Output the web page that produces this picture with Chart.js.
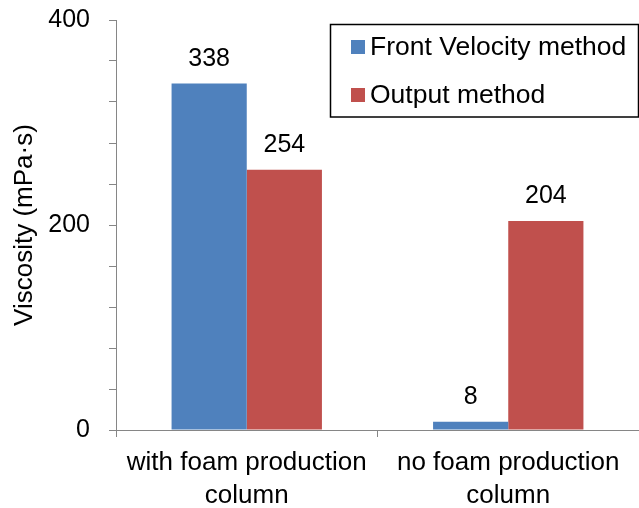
<!DOCTYPE html>
<html>
<head>
<meta charset="utf-8">
<script src="https://cdn.jsdelivr.net/npm/chart.js@4/dist/chart.umd.min.js"></script>
<style>
  html, body { margin: 0; padding: 0; background: #fff; }
  #wrap { width: 639px; height: 508px; position: relative; }
</style>
</head>
<body>
<div id="wrap"><canvas id="c" width="639" height="508"></canvas></div>
<script>
const categories = [["with foam production", "column"], ["no foam production", "column"]];
const seriesNames = ["Front Velocity method", "Output method"];
const frontVelocity = [338, 8];
const outputMethod = [254, 204];
const seriesColors = ["#4F81BD", "#C0504D"];
const yMin = 0, yMax = 400, yMinorStep = 40, yLabelStep = 200;

const FONT = "'Liberation Sans', Arial, sans-serif";
const AXIS_GRAY = "#868686";

const valueLabels = {
  id: 'valueLabels',
  afterDatasetsDraw(chart) {
    const ctx = chart.ctx;
    ctx.save();
    ctx.fillStyle = '#000';
    ctx.font = '25px ' + FONT;
    ctx.textAlign = 'center';
    ctx.textBaseline = 'alphabetic';
    chart.data.datasets.forEach((ds, i) => {
      const meta = chart.getDatasetMeta(i);
      meta.data.forEach((el, j) => {
        ctx.fillText(String(ds.data[j]), el.x, el.y - 17.5);
      });
    });
    ctx.restore();
  }
};

const boxLegend = {
  id: 'boxLegend',
  afterDraw(chart) {
    const ctx = chart.ctx;
    ctx.save();
    ctx.strokeStyle = '#000';
    ctx.lineWidth = 1.5;
    ctx.fillStyle = '#fff';
    ctx.fillRect(330, 24, 309, 93);
    ctx.strokeRect(330.5, 24.5, 308, 92.5);
    ctx.font = '26.5px ' + FONT;
    ctx.textBaseline = 'middle';
    ctx.textAlign = 'left';
    chart.data.datasets.forEach((ds, i) => {
      const cy = 47 + i * 48;
      ctx.fillStyle = ds.backgroundColor;
      ctx.fillRect(351, cy - 7, 14, 14);
      ctx.fillStyle = '#000';
      ctx.fillText(ds.label, 370, cy + 1);
    });
    ctx.restore();
  }
};

new Chart(document.getElementById('c'), {
  type: 'bar',
  data: {
    labels: categories,
    datasets: [
      { label: seriesNames[0], data: frontVelocity, backgroundColor: seriesColors[0] },
      { label: seriesNames[1], data: outputMethod, backgroundColor: seriesColors[1] }
    ]
  },
  options: {
    responsive: false,
    animation: false,
    devicePixelRatio: 1,
    layout: { padding: { top: 20, left: 0, right: 0, bottom: 0 } },
    datasets: { bar: { barPercentage: 1.0, categoryPercentage: 0.575 } },
    plugins: {
      legend: { display: false },
      tooltip: { enabled: false }
    },
    scales: {
      x: {
        offset: true,
        grid: { display: true, offset: true, drawOnChartArea: false, drawTicks: true, tickLength: 7, color: AXIS_GRAY },
        border: { display: true, color: AXIS_GRAY, width: 1 },
        ticks: { color: '#000', font: { family: FONT, size: 26, lineHeight: 1.25 }, padding: 10, maxRotation: 0, autoSkip: false },
        afterFit(s) { s.height = 78; s.paddingLeft = 0; s.paddingRight = 0; }
      },
      y: {
        min: yMin, max: yMax,
        grid: { display: true, drawOnChartArea: false, drawTicks: true, tickLength: 7, color: AXIS_GRAY },
        border: { display: true, color: AXIS_GRAY, width: 1 },
        ticks: {
          stepSize: yMinorStep,
          color: '#000',
          font: { family: FONT, size: 25 },
          padding: 19,
          callback: (v) => (v % yLabelStep === 0 ? String(v) : '')
        },
        title: { display: true, text: 'Viscosity (mPa·s)', color: '#000', font: { family: FONT, size: 26, lineHeight: 1.2 }, padding: { top: 9, bottom: 0 } },
        afterFit(s) { s.width = 116; s.paddingTop = 0; s.paddingBottom = 0; }
      }
    }
  },
  plugins: [valueLabels, boxLegend]
});
</script>
</body>
</html>
